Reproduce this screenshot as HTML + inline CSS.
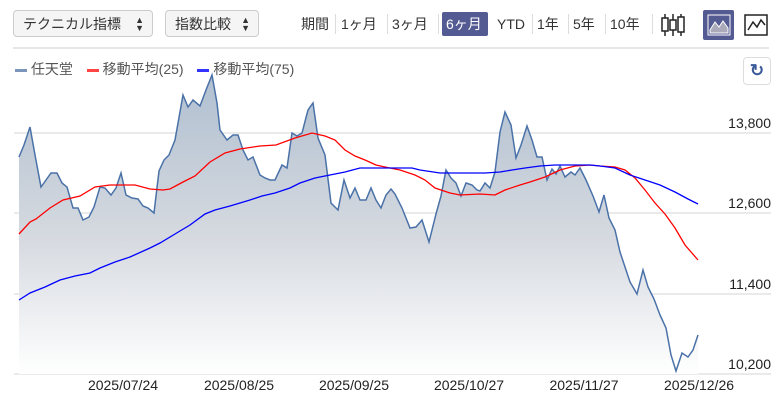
<!DOCTYPE html>
<html><head><meta charset="utf-8"><style>
body{margin:0;width:779px;height:400px;background:#fff;font-family:"Liberation Sans","Noto Sans CJK JP",sans-serif;position:relative;overflow:hidden;color:#333}
.dd{position:absolute;top:10px;height:27px;border:1px solid #ccc;border-radius:4px;background:#f5f5f5;font-size:14px;line-height:27px;padding-left:9px;box-sizing:border-box}
.dd span{position:absolute;right:8px;top:0;font-size:9px;line-height:8px;padding-top:5px}
.p{position:absolute;top:14px;font-size:14px;line-height:20px;color:#333}
.sep{position:absolute;top:14px;width:1px;height:20px;background:#ddd}
</style></head><body>
<div class="dd" style="left:13px;width:140px">テクニカル指標<span>▲<br>▼</span></div>
<div class="dd" style="left:165px;width:94px">指数比較<span>▲<br>▼</span></div>
<div class="p" style="left:301px">期間</div><div class="sep" style="left:335px"></div>
<div class="p" style="left:341px">1ヶ月</div><div class="sep" style="left:387px"></div>
<div class="p" style="left:392px">3ヶ月</div><div class="sep" style="left:438px"></div>
<div style="position:absolute;left:442px;top:12px;width:46px;height:24px;background:#545a92;border-radius:2px"></div>
<div class="p" style="left:446px;color:#fff">6ヶ月</div>
<div class="p" style="left:497px">YTD</div><div class="sep" style="left:532px"></div>
<div class="p" style="left:537px">1年</div><div class="sep" style="left:568px"></div>
<div class="p" style="left:573px">5年</div><div class="sep" style="left:605px"></div>
<div class="p" style="left:610px">10年</div><div class="sep" style="left:652px"></div>
<svg style="position:absolute;left:660px;top:12px" width="28" height="26"><g stroke="#222" fill="#fff" stroke-width="1.5"><line x1="5" y1="2" x2="5" y2="24"/><rect x="2" y="6" width="6" height="13"/><line x1="13" y1="2" x2="13" y2="24"/><rect x="10" y="8" width="6" height="10"/><line x1="21" y1="2" x2="21" y2="24"/><rect x="18" y="5" width="6" height="15"/></g></svg>
<div style="position:absolute;left:703px;top:10px;width:31px;height:30px;background:#545a92;border-radius:2px"></div>
<svg style="position:absolute;left:707px;top:14px" width="24" height="22"><rect x="1" y="1" width="22" height="20" fill="none" stroke="#fff"/><path d="M3 16 L8 8 L12 13 L16 7 L21 14 L21 19 L3 19Z" fill="#aab" stroke="#fff"/></svg>
<svg style="position:absolute;left:744px;top:14px" width="24" height="22"><rect x="1" y="1" width="22" height="20" fill="none" stroke="#222" stroke-width="1.5"/><path d="M4 16 L9 8 L13 13 L17 6 L21 11" fill="none" stroke="#222" stroke-width="1.5"/></svg>
<div style="position:absolute;left:13px;top:47px;width:756px;height:2px;background:#e6e6e6"></div>
<div style="position:absolute;left:15px;top:59px;font-size:14px;color:#555">
<span style="display:inline-block;width:12px;height:3px;background:#7b95bb;vertical-align:middle"></span> 任天堂
<span style="display:inline-block;width:12px;height:3px;background:#f44;vertical-align:middle;margin-left:10px"></span> 移動平均(25)
<span style="display:inline-block;width:12px;height:3px;background:#33f;vertical-align:middle;margin-left:10px"></span> 移動平均(75)</div>
<div style="position:absolute;left:743px;top:57px;width:28px;height:28px;border:1px solid #ddd;border-radius:4px;box-sizing:border-box;text-align:center;line-height:26px;color:#3a5a9a;font-size:17px;font-weight:bold">↻</div>
<svg style="position:absolute;left:0;top:0" width="779" height="400">
<defs><linearGradient id="g" x1="0" y1="0" x2="0" y2="1"><stop offset="0" stop-color="#b0bfd0"/><stop offset="0.55" stop-color="#d6dae0"/><stop offset="1" stop-color="#fff"/></linearGradient></defs>
<g stroke="#d4d4d4" stroke-width="1"><line x1="14" y1="133" x2="771" y2="133"/><line x1="14" y1="213" x2="771" y2="213"/><line x1="14" y1="294" x2="771" y2="294"/><line x1="14" y1="374" x2="771" y2="374"/></g>
<g font-size="14" fill="#222" text-anchor="end"><text x="771" y="128">13,800</text><text x="771" y="208">12,600</text><text x="771" y="289">11,400</text><text x="771" y="369">10,200</text></g>
<g font-size="14" fill="#222" text-anchor="middle"><text x="123" y="390">2025/07/24</text><text x="239" y="390">2025/08/25</text><text x="354" y="390">2025/09/25</text><text x="469" y="390">2025/10/27</text><text x="584" y="390">2025/11/27</text><text x="699" y="390">2025/12/26</text></g>
<path id="pr" d="M19,157 L24,145 L30,127 L35,155 L41,187 L46,180 L51,173 L57,173 L62,183 L67,187 L73,208 L78,208 L83,220 L89,217 L94,207 L100,187 L105,188 L111,195 L116,188 L121,173 L126,195 L132,198 L138,199 L143,206 L148,208 L154,213 L159,171 L164,160 L169,155 L175,140 L183,95 L188,107 L193,100 L200,106 L206,90 L212,75 L217,103 L220,130 L227,140 L233,135 L238,135 L243,150 L248,160 L253,157 L260,175 L265,178 L270,180 L275,180 L282,165 L287,168 L292,133 L297,136 L302,133 L308,110 L313,103 L318,138 L325,155 L331,203 L338,210 L344,180 L350,198 L355,188 L360,200 L366,200 L371,188 L376,200 L381,208 L386,195 L391,189 L395,194 L402,208 L410,228 L416,227 L422,220 L429,242 L436,214 L441,196 L446,170 L451,178 L456,183 L461,196 L466,183 L472,185 L477,190 L480,191 L485,183 L490,188 L495,172 L500,132 L505,112 L511,125 L516,158 L521,145 L527,126 L532,140 L537,157 L542,157 L547,180 L552,169 L556,174 L560,166 L565,177 L571,172 L575,175 L580,168 L586,180 L593,196 L599,212 L604,195 L609,218 L615,230 L620,252 L630,282 L637,294 L643,270 L648,287 L654,299 L660,315 L666,328 L671,355 L676,371 L682,353 L688,357 L693,350 L698,335" fill="none"/>
<path d="M19,157 L24,145 L30,127 L35,155 L41,187 L46,180 L51,173 L57,173 L62,183 L67,187 L73,208 L78,208 L83,220 L89,217 L94,207 L100,187 L105,188 L111,195 L116,188 L121,173 L126,195 L132,198 L138,199 L143,206 L148,208 L154,213 L159,171 L164,160 L169,155 L175,140 L183,95 L188,107 L193,100 L200,106 L206,90 L212,75 L217,103 L220,130 L227,140 L233,135 L238,135 L243,150 L248,160 L253,157 L260,175 L265,178 L270,180 L275,180 L282,165 L287,168 L292,133 L297,136 L302,133 L308,110 L313,103 L318,138 L325,155 L331,203 L338,210 L344,180 L350,198 L355,188 L360,200 L366,200 L371,188 L376,200 L381,208 L386,195 L391,189 L395,194 L402,208 L410,228 L416,227 L422,220 L429,242 L436,214 L441,196 L446,170 L451,178 L456,183 L461,196 L466,183 L472,185 L477,190 L480,191 L485,183 L490,188 L495,172 L500,132 L505,112 L511,125 L516,158 L521,145 L527,126 L532,140 L537,157 L542,157 L547,180 L552,169 L556,174 L560,166 L565,177 L571,172 L575,175 L580,168 L586,180 L593,196 L599,212 L604,195 L609,218 L615,230 L620,252 L630,282 L637,294 L643,270 L648,287 L654,299 L660,315 L666,328 L671,355 L676,371 L682,353 L688,357 L693,350 L698,335 L698,374 L19,374Z" fill="url(#g)"/>
<use href="#pr" stroke="#4a72a8" stroke-width="1.5"/>
<polyline fill="none" stroke="#f00" stroke-width="1.3" points="19,234 30,222 36,219 50,208 63,200 80,196 95,187 110,185 120,185 135,185 150,189 163,190 170,189 183,182 195,176 210,162 225,153 240,149 260,146 276,145 295,138 312,133 325,136 335,140 345,150 355,156 365,160 376,165 385,167 400,170 415,175 425,180 435,188 450,193 460,195 480,194 495,195 505,190 520,185 530,182 545,177 560,170 575,166 590,165 600,166 615,167 625,170 635,178 645,190 655,203 665,214 675,228 685,245 698,260"/>
<polyline fill="none" stroke="#00f" stroke-width="1.3" points="19,300 30,293 45,287 60,280 75,276 90,273 100,268 115,262 130,257 150,248 160,243 175,234 190,225 205,214 215,210 230,206 250,200 262,196 275,193 290,188 300,183 315,178 330,175 345,172 360,168 380,168 400,168 412,168 420,170 440,173 460,173 485,173 500,172 512,170 525,168 540,166 555,165 575,165 590,165 600,166 615,168 630,175 645,180 660,185 675,192 688,199 698,204"/>
</svg>
</body></html>
